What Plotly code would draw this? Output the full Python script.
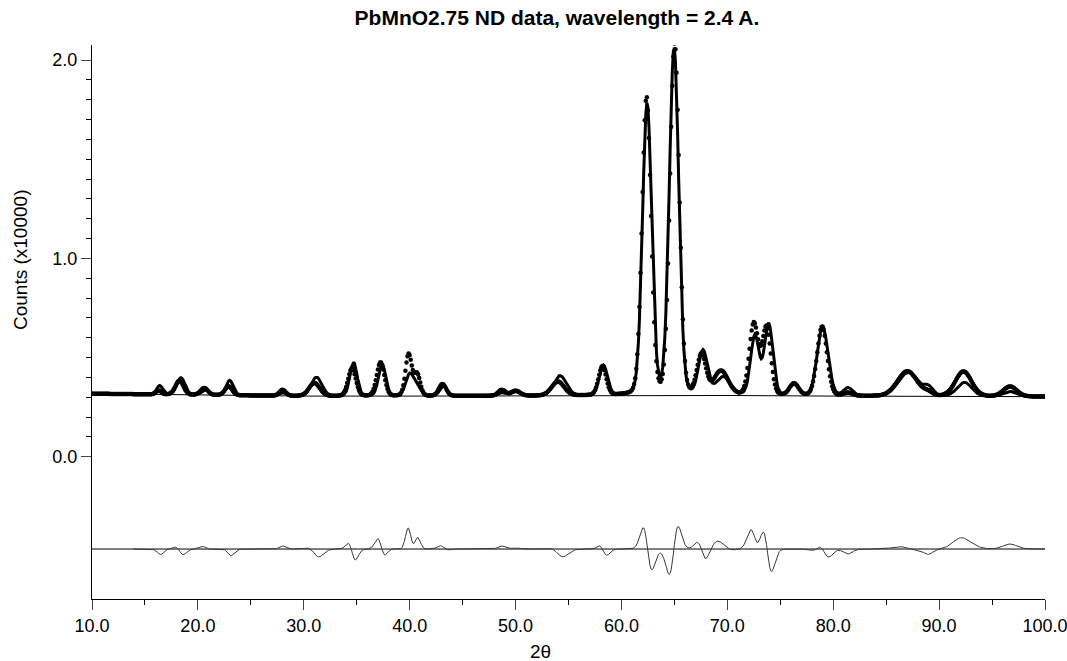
import numpy as np
import plotly.graph_objects as go

# scan range (2theta, step 0.1 deg) and offset of the difference curve
two_theta_start = 10.0
two_theta_end = 100.0
two_theta_step = 0.1
diff_start = 13.8
diff_offset = -0.465

# background, counts x10000
bg_x = [10.0, 20.0, 30.0, 40.0, 50.0, 60.0, 70.0, 80.0, 90.0, 100.0]
bg_y = [0.318, 0.312, 0.306, 0.306, 0.307, 0.309, 0.309, 0.306, 0.305, 0.303]

# calculated pattern: peak position, height above background, fwhm
calc_pos = [16.4, 18.4, 20.7, 23.0, 28.0, 31.2, 34.7, 37.4, 40.0, 40.7, 43.2, 48.7, 50.0,
            54.2, 58.3, 62.42, 64.97, 67.7, 69.6, 72.6, 73.9, 76.3, 79.0, 81.4, 87.1, 89.0,
            92.4, 96.7]
calc_h = [0.045, 0.085, 0.025, 0.075, 0.015, 0.095, 0.17, 0.16, 0.11, 0.04, 0.05, 0.015, 0.02,
          0.10, 0.15, 1.47, 1.75, 0.22, 0.09, 0.30, 0.36, 0.06, 0.35, 0.04, 0.12, 0.04,
          0.07, 0.025]
calc_w = [0.7, 0.9, 0.8, 0.8, 0.7, 1.2, 0.8, 0.8, 0.9, 0.8, 0.8, 0.8, 1.0,
          1.4, 0.9, 1.02, 1.05, 1.0, 1.6, 0.95, 0.95, 1.0, 1.2, 1.0, 2.2, 1.0,
          1.6, 1.5]

# observed pattern: peak position, height above background, fwhm
obs_pos = [16.3, 18.25, 20.6, 22.9, 28.0, 31.0, 34.55, 37.25, 39.9, 40.7, 43.1, 48.7, 50.0,
           54.0, 58.2, 62.37, 65.02, 67.55, 69.4, 72.5, 73.7, 76.3, 78.95, 81.4, 87.0, 89.0,
           92.3, 96.7]
obs_h = [0.02, 0.07, 0.035, 0.045, 0.03, 0.065, 0.14, 0.17, 0.21, 0.11, 0.06, 0.03, 0.025,
         0.07, 0.145, 1.50, 1.77, 0.20, 0.12, 0.36, 0.34, 0.06, 0.35, 0.015, 0.125, 0.015,
         0.125, 0.05]
obs_w = [0.6, 0.9, 0.8, 0.8, 0.7, 1.2, 0.85, 0.85, 0.7, 0.7, 0.8, 0.8, 1.0,
         1.4, 0.85, 1.0, 1.03, 1.0, 1.6, 1.0, 0.95, 1.0, 1.1, 1.0, 2.2, 1.0,
         1.8, 1.5]

x_ticks = [10, 20, 30, 40, 50, 60, 70, 80, 90, 100]
x_minor = [15, 25, 35, 45, 55, 65, 75, 85, 95]
y_ticks = [0.0, 1.0, 2.0]
y_minor = [round(0.1 * i, 1) for i in range(1, 21) if i % 10]


def pattern(x, pos, h, w, eta=0.1):
    y = np.interp(x, bg_x, bg_y)
    for p, a, fw in zip(pos, h, w):
        d = (x - p) ** 2 / fw ** 2
        y = y + a * ((1 - eta) * np.exp(-4 * np.log(2) * d) + eta / (1 + 4 * d))
    return y


tt = np.arange(two_theta_start, two_theta_end + 1e-9, two_theta_step)
obs = pattern(tt, obs_pos, obs_h, obs_w)
calc = pattern(tt, calc_pos, calc_h, calc_w)
m = tt >= diff_start
diff = obs[m] - calc[m] + diff_offset

fig = go.Figure()
fig.add_trace(go.Scatter(x=tt, y=calc, mode="lines", line=dict(color="black", width=3)))
fig.add_trace(go.Scatter(x=tt, y=obs, mode="markers", marker=dict(color="black", size=4.5)))
fig.add_trace(go.Scatter(x=bg_x, y=bg_y, mode="lines", line=dict(color="black", width=1)))
fig.add_trace(go.Scatter(x=[two_theta_start, two_theta_end], y=[diff_offset, diff_offset],
                         mode="lines", line=dict(color="black", width=1)))
fig.add_trace(go.Scatter(x=tt[m], y=diff, mode="lines", line=dict(color="#3a3a3a", width=1)))

font = "Liberation Sans, Arial, sans-serif"
fig.update_layout(
    width=1067, height=661,
    margin=dict(l=92, r=22, t=45, b=62),
    plot_bgcolor="white", paper_bgcolor="white",
    showlegend=False,
    font=dict(family=font, size=18, color="black"),
    title=dict(text="<b>PbMnO2.75 ND data, wavelength = 2.4 A.</b>", x=0.522, xref="container",
               y=1 - 18 / 661, yref="container", xanchor="center", yanchor="middle",
               font=dict(size=21, family=font)),
    annotations=[
        dict(text="Counts (x10000)", textangle=-90, x=-72 / 953, y=(599 - 260) / 554,
             xref="paper", yref="paper", xanchor="center", yanchor="middle",
             showarrow=False, font=dict(size=19)),
        dict(text="2θ", x=(540 - 92) / 953, y=(599 - 651) / 554,
             xref="paper", yref="paper", xanchor="center", yanchor="middle",
             showarrow=False, font=dict(size=19)),
    ],
)
fig.update_xaxes(range=[10, 100], tickvals=x_ticks, tickformat=".1f", ticks="outside",
                 ticklen=10, tickwidth=1, showline=True, linecolor="black", linewidth=1,
                 showgrid=False, zeroline=False, automargin=False, ticklabeloverflow="allow",
                 minor=dict(tickvals=x_minor, ticks="outside", ticklen=5, tickcolor="black"))
fig.update_yaxes(range=[-0.717, 2.076], tickvals=y_ticks, tickformat=".1f", ticks="outside",
                 ticklen=10, tickwidth=1, showline=True, linecolor="black", linewidth=1,
                 showgrid=False, zeroline=False, automargin=False,
                 minor=dict(tickvals=y_minor, ticks="outside", ticklen=5, tickcolor="black"))

fig.write_html("out.html", config={"displayModeBar": False},
               post_script="document.body.style.margin='0';")
